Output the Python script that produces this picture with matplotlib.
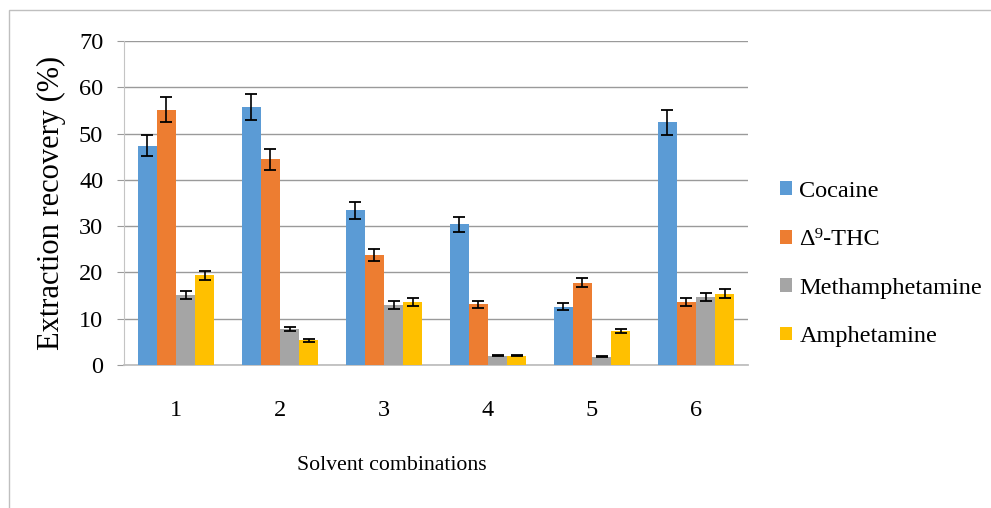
import numpy as np
import matplotlib
matplotlib.use("Agg")
import matplotlib.pyplot as plt
from matplotlib.patches import Rectangle, Patch

categories = ["1", "2", "3", "4", "5", "6"]
series_names = ["Cocaine", "Δ⁹-THC", "Methamphetamine", "Amphetamine"]
cocaine = [47.4, 55.7, 33.4, 30.4, 12.6, 52.4]
cocaine_err = [2.3, 2.8, 1.8, 1.6, 0.7, 2.7]
thc = [55.2, 44.4, 23.8, 13.1, 17.8, 13.6]
thc_err = [2.8, 2.3, 1.3, 0.8, 1.0, 0.8]
meth = [15.1, 7.8, 13.0, 2.0, 1.8, 14.7]
meth_err = [0.8, 0.5, 0.8, 0.15, 0.15, 0.8]
amph = [19.4, 5.3, 13.6, 2.0, 7.4, 15.4]
amph_err = [1.0, 0.4, 0.8, 0.15, 0.4, 1.0]
yticks = [0, 10, 20, 30, 40, 50, 60, 70]

colors = ["#5B9BD5", "#ED7D31", "#A5A5A5", "#FFC000"]
values = [cocaine, thc, meth, amph]
errors = [cocaine_err, thc_err, meth_err, amph_err]

plt.rcParams['font.family'] = ['Liberation Serif', 'DejaVu Serif']

fig = plt.figure(figsize=(9.91, 5.08), dpi=100)
ax = fig.add_axes([124/991, 1-365/508, (748-124)/991, (365-41)/508])

x = np.arange(len(categories))
w = 0.183
for i, (vals, errs, c, name) in enumerate(zip(values, errors, colors, series_names)):
    ax.bar(x + (i - 1.5) * w, vals, width=w, color=c, label=name, zorder=3,
           yerr=errs, error_kw=dict(ecolor='black', elinewidth=1.2, capsize=4.5, capthick=1.3, zorder=4))

ax.set_xlim(-0.5, len(categories) - 0.5)
ax.set_ylim(0, 70)
ax.set_yticks(yticks)
ax.set_xticks(x)
ax.set_xticklabels(categories)
ax.yaxis.grid(True, color='#9A9A9A', linewidth=1.0, zorder=0)
ax.set_axisbelow(True)
for s in ['top', 'right']:
    ax.spines[s].set_visible(False)
ax.spines['left'].set_color('#C4C4C4')
ax.spines['bottom'].set_color('#BFBFBF')
ax.spines['bottom'].set_linewidth(1.3)
ax.tick_params(axis='y', length=5, color='#9A9A9A', labelsize=17.5, pad=10)
ax.tick_params(axis='x', length=0, labelsize=17.5, pad=25)

fig.text(51/991, 1-203/508, "Extraction recovery (%)", rotation=90, ha='center', va='center', fontsize=22)
fig.text(392/991, 1-466/508, "Solvent combinations", ha='center', va='center', fontsize=15.7)

handles = [Patch(facecolor=c, edgecolor='none') for c in colors]
fig.legend(handles, series_names, loc='center left', bbox_to_anchor=(780/991, 1-264/508),
           frameon=False, fontsize=17.5, handlelength=0.5, handleheight=0.5,
           handletextpad=0.3, labelspacing=1.13, borderaxespad=0, borderpad=0)

fig.patches.append(Rectangle((9/991, -0.1), 1.2, 1.1 - 10/508, transform=fig.transFigure,
                             fill=False, edgecolor='#BFBFBF', linewidth=1.0))

fig.savefig("out.png", dpi=100)
